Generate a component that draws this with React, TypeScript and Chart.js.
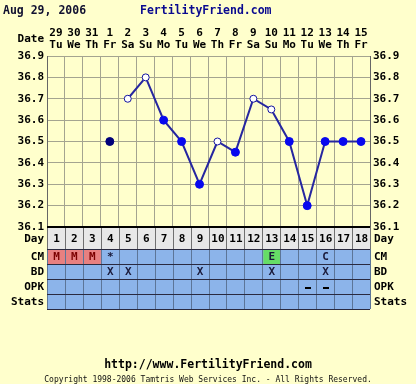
import { useEffect, useRef } from "react";
import { Chart, registerables } from "chart.js";

Chart.register(...registerables);

const chartTitle = "Aug 29, 2006";
const siteName = "FertilityFriend.com";
const footerUrl = "http://www.FertilityFriend.com";
const footerCopy = "Copyright 1998-2006 Tamtris Web Services Inc. - All Rights Reserved.";

const cycleDays = [1, 2, 3, 4, 5, 6, 7, 8, 9, 10, 11, 12, 13, 14, 15, 16, 17, 18];
const dateLabels = ["29", "30", "31", "1", "2", "3", "4", "5", "6", "7", "8", "9", "10", "11", "12", "13", "14", "15"];
const weekdayLabels = ["Tu", "We", "Th", "Fr", "Sa", "Su", "Mo", "Tu", "We", "Th", "Fr", "Sa", "Su", "Mo", "Tu", "We", "Th", "Fr"];

const temps: (number | null)[] = [null, null, null, null, 36.7, 36.8, 36.6, 36.5, 36.3, 36.5, 36.45, 36.7, 36.65, 36.5, 36.2, 36.5, 36.5, 36.5];
const openPoints = [false, false, false, false, true, true, false, false, false, true, false, true, true, false, false, false, false, false];
const discardedTemps: (number | null)[] = [null, null, null, 36.5, null, null, null, null, null, null, null, null, null, null, null, null, null, null];

const yTickValues = [36.1, 36.2, 36.3, 36.4, 36.5, 36.6, 36.7, 36.8, 36.9];

const rowLabels = ["CM", "BD", "OPK", "Stats"];
const cmMarks = ["M", "M", "M", "*", "", "", "", "", "", "", "", "", "E", "", "", "C", "", ""];
const bdMarks = ["", "", "", "X", "X", "", "", "", "X", "", "", "", "X", "", "", "X", "", ""];
const opkMarks = ["", "", "", "", "", "", "", "", "", "", "", "", "", "", "-", "-", "", ""];
const statsMarks = ["", "", "", "", "", "", "", "", "", "", "", "", "", "", "", "", "", ""];
const tableRows = [cmMarks, bdMarks, opkMarks, statsMarks];

const BG = "#FFFFCC";
const MONO = "'DejaVu Sans Mono', 'Liberation Mono', monospace";
const F_BOLD = `bold 11px ${MONO}`;

const decorPlugin = {
  id: "decor",
  beforeDraw(chart: any) {
    const ctx = chart.ctx;
    ctx.save();
    ctx.fillStyle = BG;
    ctx.fillRect(0, 0, chart.width, chart.height);
    ctx.restore();
  },
  afterDraw(chart: any) {
    const ctx = chart.ctx;
    const xs = chart.scales.x;
    const ca = chart.chartArea;
    const colW = xs.getPixelForValue(1) - xs.getPixelForValue(0);
    ctx.save();

    // Title
    ctx.textBaseline = "middle";
    ctx.textAlign = "left";
    ctx.font = `bold 11.5px ${MONO}`;
    ctx.fillStyle = "#101030";
    ctx.fillText(chartTitle, 3, 11);
    ctx.fillStyle = "#0a0a90";
    ctx.fillText(siteName, 140, 11);

    // Header dates
    ctx.font = F_BOLD;
    ctx.fillStyle = "#000";
    ctx.textAlign = "right";
    ctx.fillText("Date", 44, 39);
    ctx.textAlign = "center";
    cycleDays.forEach((_, i) => {
      const cx = xs.getPixelForValue(i);
      ctx.fillText(dateLabels[i], cx, 33);
      ctx.fillText(weekdayLabels[i], cx, 45);
    });

    // Table
    const dayTop = ca.bottom;
    const dayH = 22;
    const rowH = 15;
    const left = ca.left;
    const right = ca.right;
    ctx.fillStyle = "#E8E8E8";
    ctx.fillRect(left, dayTop, right - left, dayH);
    const rowsTop = dayTop + dayH;
    ctx.fillStyle = "#8CB4EA";
    ctx.fillRect(left, rowsTop, right - left, rowH * tableRows.length);

    // special cells
    cmMarks.forEach((m, i) => {
      const cx = xs.getPixelForValue(i);
      if (m === "M") {
        ctx.fillStyle = "#E88080";
        ctx.fillRect(cx - colW / 2 + 1, rowsTop + 1, colW - 1, rowH - 1);
      } else if (m === "E") {
        ctx.fillStyle = "#66DD66";
        ctx.fillRect(cx - colW / 2 + 1, rowsTop + 1, colW - 1, rowH - 1);
      }
    });

    // vertical lines
    ctx.lineWidth = 1;
    for (let i = 0; i <= cycleDays.length; i++) {
      const lx = Math.round(xs.getPixelForValue(i) - colW / 2) + 0.5;
      ctx.strokeStyle = "#707070";
      ctx.beginPath();
      ctx.moveTo(lx, dayTop);
      ctx.lineTo(lx, rowsTop);
      ctx.stroke();
      ctx.strokeStyle = "#5C7598";
      ctx.beginPath();
      ctx.moveTo(lx, rowsTop);
      ctx.lineTo(lx, rowsTop + rowH * tableRows.length);
      ctx.stroke();
    }
    // horizontal lines
    ctx.strokeStyle = "#2a2a40";
    for (let r = 0; r <= tableRows.length; r++) {
      const ly = Math.round(rowsTop + r * rowH) + 0.5;
      ctx.beginPath();
      ctx.moveTo(left, ly);
      ctx.lineTo(right, ly);
      ctx.stroke();
    }
    // plot bottom line
    ctx.strokeStyle = "#000";
    ctx.lineWidth = 2;
    ctx.beginPath();
    ctx.moveTo(left, dayTop);
    ctx.lineTo(right, dayTop);
    ctx.stroke();

    // Day numbers
    ctx.font = F_BOLD;
    ctx.fillStyle = "#000";
    ctx.textAlign = "center";
    cycleDays.forEach((d, i) => {
      ctx.fillText(String(d), xs.getPixelForValue(i) + 0.5, dayTop + dayH / 2 + 1);
    });
    // marks
    tableRows.forEach((row, r) => {
      const cy = rowsTop + r * rowH + rowH / 2 + 1;
      row.forEach((m, i) => {
        if (!m) return;
        const cx = xs.getPixelForValue(i) + 0.5;
        if (m === "-") {
          ctx.fillStyle = "#000";
          ctx.fillRect(Math.round(cx - 3), Math.round(cy - 1), 6, 2);
          return;
        }
        ctx.fillStyle = m === "M" ? "#7A0000" : "#1A1A3A";
        ctx.fillText(m, cx, cy);
      });
    });

    // Row labels both sides
    const labels = ["Day", ...rowLabels];
    const centers = [dayTop + dayH / 2 + 1, ...rowLabels.map((_, r) => rowsTop + r * rowH + rowH / 2 + 1)];
    ctx.fillStyle = "#000";
    labels.forEach((lab, k) => {
      ctx.textAlign = "right";
      ctx.fillText(lab, left - 3, centers[k]);
      ctx.textAlign = "left";
      ctx.fillText(lab, right + 4, centers[k]);
    });

    // Footer
    ctx.textAlign = "center";
    ctx.font = `bold 11.5px ${MONO}`;
    ctx.fillStyle = "#000";
    ctx.fillText(footerUrl, 208, 365);
    ctx.font = `8px ${MONO}`;
    ctx.fillStyle = "#111";
    ctx.fillText(footerCopy, 208, 380);

    ctx.restore();
  },
};

export default function App() {
  const ref = useRef<HTMLCanvasElement | null>(null);
  useEffect(() => {
    if (!ref.current) return;
    const yCommon = {
      min: 36.1,
      max: 36.9,
      afterBuildTicks: (s: any) => {
        s.ticks = yTickValues.map((v) => ({ value: v }));
      },
      ticks: {
        font: { family: "'DejaVu Sans Mono', monospace", size: 11, weight: "bold" as const },
        color: "#000",
        padding: 3,
        callback: (v: any) => Number(v).toFixed(1),
      },
    };
    const chart = new Chart(ref.current, {
      type: "line",
      data: {
        labels: cycleDays.map(String),
        datasets: [
          {
            data: temps,
            borderColor: "#2626A0",
            borderWidth: 2,
            spanGaps: false,
            pointRadius: openPoints.map((o) => (o ? 3.5 : 4)),
            pointBackgroundColor: openPoints.map((o) => (o ? "#FFFFFF" : "#0808EE")),
            pointBorderColor: openPoints.map((o) => (o ? "#1414A0" : "#0808EE")),
            pointBorderWidth: 1,
            yAxisID: "y",
          },
          {
            data: discardedTemps,
            showLine: false,
            pointRadius: 4,
            pointBackgroundColor: "#00007A",
            pointBorderColor: "#00007A",
            pointBorderWidth: 1,
            yAxisID: "y",
          },
        ],
      },
      options: {
        responsive: false,
        animation: false,
        layout: { padding: { top: 56, bottom: 157, left: 0, right: 0 } },
        plugins: { legend: { display: false }, tooltip: { enabled: false } },
        scales: {
          x: {
            type: "category",
            offset: true,
            grid: { offset: true, color: "#A4A490", drawTicks: false },
            ticks: { display: false },
            border: { display: false },
            afterFit: (s: any) => {
              s.height = 0;
            },
          },
          y: {
            ...yCommon,
            position: "left",
            grid: { color: "#A4A490", drawTicks: false },
            border: { color: "#666" },
            afterFit: (s: any) => {
              s.width = 47;
            },
          },
          y2: {
            ...yCommon,
            position: "right",
            grid: { display: false, drawTicks: false },
            border: { color: "#666" },
            afterFit: (s: any) => {
              s.width = 46;
            },
          },
        },
      } as any,
      plugins: [decorPlugin],
    });
    return () => chart.destroy();
  }, []);
  return (
    <div style={{ position: "absolute", left: 0, top: 0, width: 416, height: 384 }}>
      <canvas ref={ref} width={416} height={384} style={{ width: 416, height: 384 }} />
    </div>
  );
}
